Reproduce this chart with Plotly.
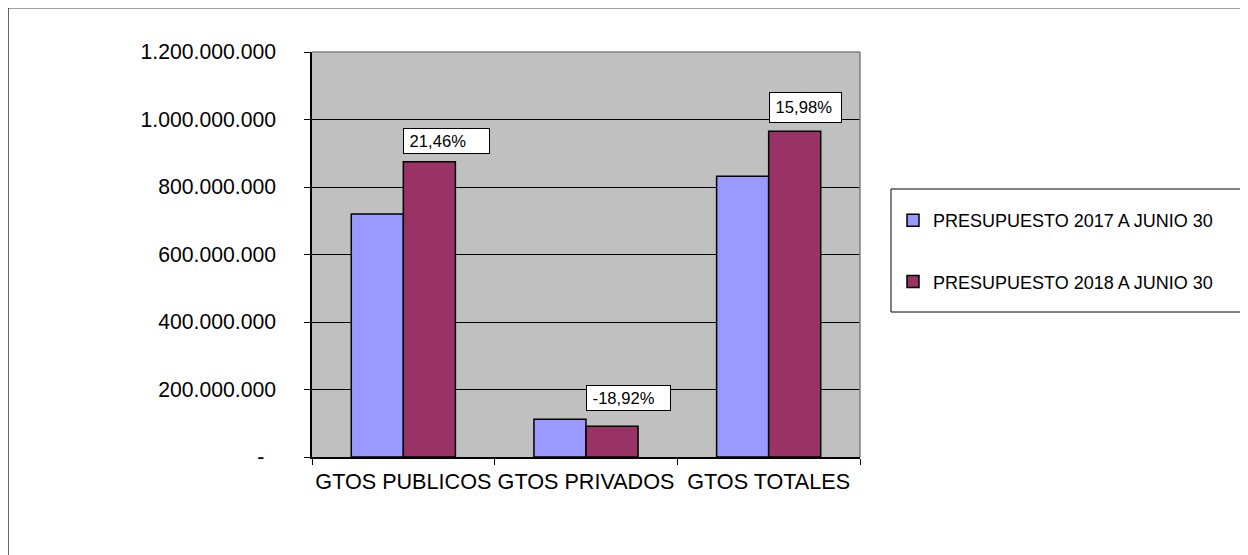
import plotly.graph_objects as go

categories = ["GTOS PUBLICOS", "GTOS PRIVADOS", "GTOS TOTALES"]
series_names = ["PRESUPUESTO 2017 A JUNIO 30", "PRESUPUESTO 2018 A JUNIO 30"]
values_2017 = [720_000_000, 112_000_000, 832_000_000]
values_2018 = [874_500_000, 90_800_000, 965_000_000]
change_labels = ["21,46%", "-18,92%", "15,98%"]
tick_values = [0, 200_000_000, 400_000_000, 600_000_000, 800_000_000, 1_000_000_000, 1_200_000_000]
tick_labels = ["-\u00a0\u00a0", "200.000.000", "400.000.000", "600.000.000",
               "800.000.000", "1.000.000.000", "1.200.000.000"]

OFF = 8  # page body margin
W, H = 1248 - OFF, 555 - OFF
L, R, T, B = 312 - OFF, 860 - OFF, 52 - OFF, 457 - OFF
FONT = "Liberation Sans, Arial, sans-serif"


def px(x):
    return (x - OFF - L) / (R - L)


def py(y):
    return (B - (y - OFF)) / (B - T)


fig = go.Figure()
fig.add_trace(go.Bar(x=categories, y=values_2017, name=series_names[0],
                     marker=dict(color="#9999FF", line=dict(color="black", width=1.5)),
                     legendgroup="a"))
fig.add_trace(go.Bar(x=categories, y=values_2018, name=series_names[1],
                     marker=dict(color="#993366", line=dict(color="black", width=1.5)),
                     legendgroup="b"))

box_w = [83, 81, 69]
box_h = [20, 20, 25]
box_h = [22, 22, 27]
for i, lab in enumerate(change_labels):
    fig.add_annotation(x=i, y=max(values_2017[i], values_2018[i]), xref="x", yref="y",
                       text="\u00a0" + lab, showarrow=False, xanchor="left", yanchor="bottom",
                       xshift=0, yshift=8, align="left", width=box_w[i], height=box_h[i],
                       bgcolor="white", bordercolor="black", borderwidth=1, borderpad=1,
                       font=dict(family=FONT, size=16.6, color="black"))

shapes = [
    # plot area top/right border
    dict(type="line", xref="paper", yref="paper", x0=0, x1=1, y0=1, y1=1,
         line=dict(color="#808080", width=1.5)),
    dict(type="line", xref="paper", yref="paper", x0=1, x1=1, y0=0, y1=1,
         line=dict(color="#808080", width=1.5)),
    # legend box
    dict(type="rect", xref="paper", yref="paper", x0=px(891), x1=px(1241), y0=py(312), y1=py(189),
         line=dict(color="black", width=1), fillcolor="rgba(0,0,0,0)"),
    # outer chart border
    dict(type="line", xref="paper", yref="paper", x0=px(8), x1=px(1241), y0=py(8), y1=py(8),
         line=dict(color="#808080", width=1.5)),
    dict(type="line", xref="paper", yref="paper", x0=px(8), x1=px(8), y0=py(8), y1=py(570),
         line=dict(color="#333333", width=1.5)),
    dict(type="line", xref="paper", yref="paper", x0=px(1241), x1=px(1241), y0=py(8), y1=py(570),
         line=dict(color="#333333", width=1.5)),
]

fig.update_layout(
    width=W, height=H,
    margin=dict(l=L, r=W - R, t=T, b=H - B, pad=0, autoexpand=False),
    paper_bgcolor="white", plot_bgcolor="#C0C0C0",
    barmode="group", bargap=0.43, bargroupgap=0,
    font=dict(family=FONT, color="black"),
    showlegend=True,
    legend=dict(x=px(893), y=py(202), xanchor="left", yanchor="top",
                font=dict(family=FONT, size=18, color="black"),
                bgcolor="rgba(0,0,0,0)", borderwidth=0,
                traceorder="grouped", tracegroupgap=35, itemwidth=30),
    shapes=shapes,
)
fig.update_xaxes(type="category", showline=True, linecolor="black", linewidth=1.5,
                 ticks="outside", tickson="boundaries", ticklen=6, tickcolor="black",
                 ticklabelstandoff=4, tickangle=0, automargin=False,
                 tickfont=dict(family=FONT, size=21.6, color="black"), showgrid=False)
fig.update_yaxes(range=[0, 1_200_000_000], tickvals=tick_values, ticktext=tick_labels,
                 showline=True, linecolor="black", linewidth=1.5, automargin=False,
                 ticks="outside", ticklen=6, tickcolor="black", ticklabelstandoff=24,
                 tickfont=dict(family=FONT, size=21.2, color="black"),
                 showgrid=True, gridcolor="black", gridwidth=1, zeroline=False)

fig.write_html("out.html")
